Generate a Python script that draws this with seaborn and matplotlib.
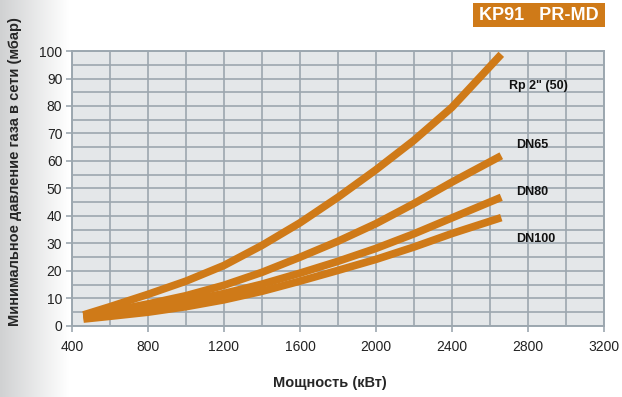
import numpy as np
import pandas as pd
import matplotlib
matplotlib.use("Agg")
import matplotlib.pyplot as plt
import seaborn as sns
from matplotlib.patches import Rectangle
from matplotlib.ticker import MultipleLocator

# Мощность (кВт)
power = [460, 600, 800, 1000, 1200, 1400, 1600, 1800, 2000, 2200, 2400, 2660]
# Минимальное давление (мбар) для каждой рампы
rp2 = [4, 7, 11.5, 16.3, 22, 29.3, 37.5, 46.8, 56.8, 67.5, 79.5, 98.8]
dn65 = [3.5, 5.3, 8, 11, 14.8, 19.5, 25, 30.8, 37.2, 44.5, 52.3, 61.9]
dn80 = [3, 4.5, 6.5, 9, 11.8, 15.2, 19.2, 23.5, 28.2, 33.5, 39.3, 46.8]
dn100 = [2.5, 3.5, 5, 7, 9.5, 12.6, 16.3, 20.2, 24.2, 28.7, 33.6, 39.4]
series_names = ['Rp 2" (50)', "DN65", "DN80", "DN100"]
label_pos = [(2700, 87.3), (2737, 65.8), (2737, 48.6), (2737, 31.6)]

df = pd.concat([
    pd.DataFrame({"power": power, "pressure": vals, "ramp": name})
    for name, vals in zip(series_names, [rp2, dn65, dn80, dn100])
])

orange = "#cf7a18"
grid_col = "#9ca7af"

sns.set_style("white")
plt.rcParams["font.family"] = ["Liberation Sans", "DejaVu Sans"]

fig = plt.figure(figsize=(6.22, 3.97), dpi=100)

# серый градиент слева
bg = fig.add_axes([0, 0, 0.11, 1], zorder=-5)
grad = np.linspace(0, 1, 256)[None, :]
bg.imshow(grad, aspect="auto", cmap=matplotlib.colors.LinearSegmentedColormap.from_list("g", ["#d0d1d2", "#ffffff"]),
          extent=[0, 1, 0, 1])
bg.axis("off")

ax = fig.add_axes([0.1158, 0.179, 0.855, 0.6925])
ax.set_facecolor("#e4e7e9")

sns.lineplot(data=df, x="power", y="pressure", hue="ramp", palette=[orange] * 4,
             linewidth=5.5, legend=False, ax=ax, zorder=3)
for line in ax.get_lines():
    line.set_solid_capstyle("butt")
    line.set_solid_joinstyle("round")

for name, (lx, ly) in zip(series_names, label_pos):
    ax.text(lx, ly, name, fontsize=9, fontweight="bold", va="center", ha="left", color="#111111")

ax.set_xlim(400, 3200)
ax.set_ylim(0, 100)
ax.xaxis.set_major_locator(MultipleLocator(400))
ax.xaxis.set_minor_locator(MultipleLocator(200))
ax.yaxis.set_major_locator(MultipleLocator(10))
ax.yaxis.set_minor_locator(MultipleLocator(5))
ax.grid(which="both", color=grid_col, linewidth=1.2)
ax.set_axisbelow(True)
for s in ax.spines.values():
    s.set_color(grid_col)
    s.set_linewidth(1.4)
ax.tick_params(axis="both", which="major", direction="out", length=4, width=1.2,
               color=grid_col, labelsize=10, labelcolor="#222222", left=True, bottom=True)
ax.tick_params(axis="x", pad=6)
ax.tick_params(axis="y", pad=3)

ax.set_xlabel("Мощность (кВт)", fontsize=10.5, fontweight="bold")
ax.set_ylabel("Минимальное давление газа в сети (мбар)", fontsize=10.5, fontweight="bold")
ax.xaxis.set_label_coords(0.485, -0.182)
ax.yaxis.set_label_coords(-0.094, 0.56)

# заголовок в оранжевой плашке
fig.patches.append(Rectangle((0.7605, 0.932), 0.212, 0.0605, transform=fig.transFigure,
                             facecolor=orange, edgecolor="none"))
fig.text(0.8665, 0.962, "KP91   PR-MD", color="white", fontsize=13, fontweight="bold",
         ha="center", va="center")

fig.savefig("out.png", dpi=100)
